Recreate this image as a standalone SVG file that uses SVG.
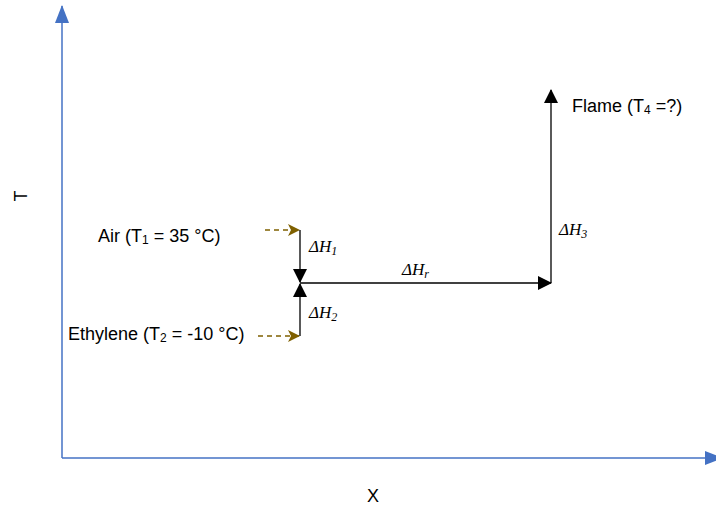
<svg xmlns="http://www.w3.org/2000/svg" width="716" height="506" viewBox="0 0 716 506">
<style>
.lbl{font-family:"Liberation Sans",Arial,sans-serif;font-size:18px;fill:#000}
.sub{font-size:12px}
.dh{font-family:"Liberation Serif","Times New Roman",serif;font-size:17px;font-style:italic;fill:#000}
.dsub{font-size:12px}
.axis{stroke:#4472C4;stroke-width:1.5;fill:none}
.blk{stroke:#000;stroke-width:1.3;fill:none}
.dash{stroke:#7F6000;stroke-width:1.3;stroke-dasharray:5,4;fill:none}
</style>
<defs>
<marker id="ab" markerWidth="18" markerHeight="14" refX="17" refY="7" orient="auto" markerUnits="userSpaceOnUse" viewBox="0 0 18 14"><path d="M0,0 L18,7 L0,14 z" fill="#4472C4"/></marker>
<marker id="ak" markerWidth="14" markerHeight="14" refX="13" refY="7" orient="auto" markerUnits="userSpaceOnUse" viewBox="0 0 14 14"><path d="M0,0 L14,7 L0,14 z" fill="#000"/></marker>
<marker id="ad" markerWidth="12" markerHeight="12" refX="11" refY="6" orient="auto" markerUnits="userSpaceOnUse" viewBox="0 0 12 12"><path d="M0,0 L12,6 L0,12 L3,6 z" fill="#7F6000"/></marker>
</defs>
<g id="axes">
<line class="axis" x1="62" y1="458" x2="62" y2="6" marker-end="url(#ab)"/>
<line class="axis" x1="62" y1="458" x2="722" y2="458" marker-end="url(#ab)"/>
<text class="lbl" x="27" y="196" text-anchor="middle" transform="rotate(-90 27 196)">T</text>
<text class="lbl" x="373" y="502" text-anchor="middle">X</text>
</g>
<g id="connectors">
<line class="dash" x1="265" y1="230" x2="299" y2="230" marker-end="url(#ad)"/>
<line class="dash" x1="258" y1="336" x2="299" y2="336" marker-end="url(#ad)"/>
<line class="blk" x1="300" y1="230" x2="300" y2="282" marker-end="url(#ak)"/>
<line class="blk" x1="300" y1="336" x2="300" y2="284" marker-end="url(#ak)"/>
<line class="blk" x1="300" y1="283" x2="551" y2="283" marker-end="url(#ak)"/>
<line class="blk" x1="551" y1="283" x2="551" y2="90" marker-end="url(#ak)"/>
</g>
<g id="air"><text class="lbl" x="98" y="242">Air (T<tspan class="sub" dy="2">1</tspan><tspan dy="-2"> = 35 °C)</tspan></text></g>
<g id="ethylene"><text class="lbl" x="68" y="340">Ethylene (T<tspan class="sub" dy="2">2</tspan><tspan dy="-2"> = -10 °C)</tspan></text></g>
<g id="flame"><text class="lbl" x="572" y="112">Flame (T<tspan class="sub" dy="2">4</tspan><tspan dy="-2"> =?)</tspan></text></g>
<g id="dh1"><text class="dh" x="309" y="252">ΔH<tspan class="dsub" dy="3">1</tspan></text></g>
<g id="dh2"><text class="dh" x="309" y="318">ΔH<tspan class="dsub" dy="3">2</tspan></text></g>
<g id="dhr"><text class="dh" x="402" y="275">ΔH<tspan class="dsub" dy="3">r</tspan></text></g>
<g id="dh3"><text class="dh" x="559" y="235">ΔH<tspan class="dsub" dy="3">3</tspan></text></g>
</svg>
